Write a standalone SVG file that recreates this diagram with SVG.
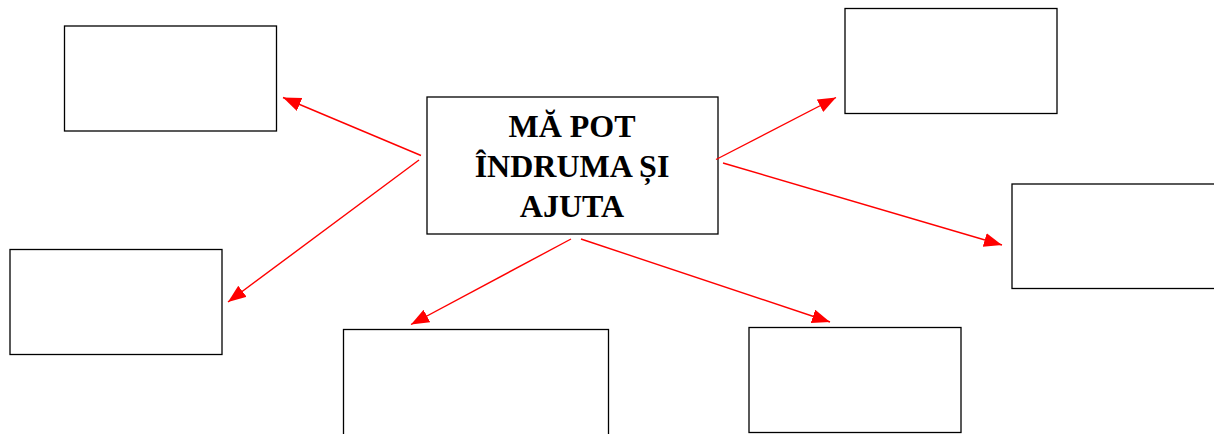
<svg xmlns="http://www.w3.org/2000/svg" width="1214" height="434" viewBox="0 0 1214 434">
<style>
.box{fill:#fff;stroke:#000;stroke-width:1.3}
.conn{stroke:#f00;stroke-width:1.4;fill:none}
.title{font-family:"Liberation Serif","Times New Roman",serif;font-weight:bold;font-size:32px;fill:#000;text-anchor:middle}
</style>
<defs>
<marker id="arr" markerUnits="userSpaceOnUse" markerWidth="20" markerHeight="16" refX="18" refY="7" orient="auto">
<path d="M0,0 L18,7 L0,14 Z" fill="#f00"/>
</marker>
</defs>
<rect width="1214" height="434" fill="#fff"/>
<g id="center">
<rect class="box" x="427" y="97" width="291" height="137"/>
<text class="title" x="572" y="137">MĂ POT</text>
<text class="title" x="572" y="177">ÎNDRUMA ȘI</text>
<text class="title" x="572" y="217">AJUTA</text>
</g>
<g id="box-top-left"><rect class="box" x="64.5" y="26" width="212" height="105"/></g>
<g id="box-left"><rect class="box" x="10" y="249.5" width="212" height="105"/></g>
<g id="box-bottom-left"><rect class="box" x="343.5" y="329.5" width="265" height="120"/></g>
<g id="box-bottom-right"><rect class="box" x="749" y="327.5" width="212" height="105"/></g>
<g id="box-top-right"><rect class="box" x="845" y="8.5" width="212" height="105"/></g>
<g id="box-right"><rect class="box" x="1012" y="184" width="220" height="104.5"/></g>
<g id="connectors">
<line class="conn" x1="421" y1="155.5" x2="283" y2="97.5" marker-end="url(#arr)"/>
<line class="conn" x1="419" y1="160" x2="228" y2="302" marker-end="url(#arr)"/>
<line class="conn" x1="571" y1="239" x2="411" y2="324.5" marker-end="url(#arr)"/>
<line class="conn" x1="581" y1="239" x2="830" y2="322" marker-end="url(#arr)"/>
<line class="conn" x1="716" y1="159.5" x2="836" y2="97.5" marker-end="url(#arr)"/>
<line class="conn" x1="723" y1="163" x2="1002" y2="245" marker-end="url(#arr)"/>
</g>
</svg>
